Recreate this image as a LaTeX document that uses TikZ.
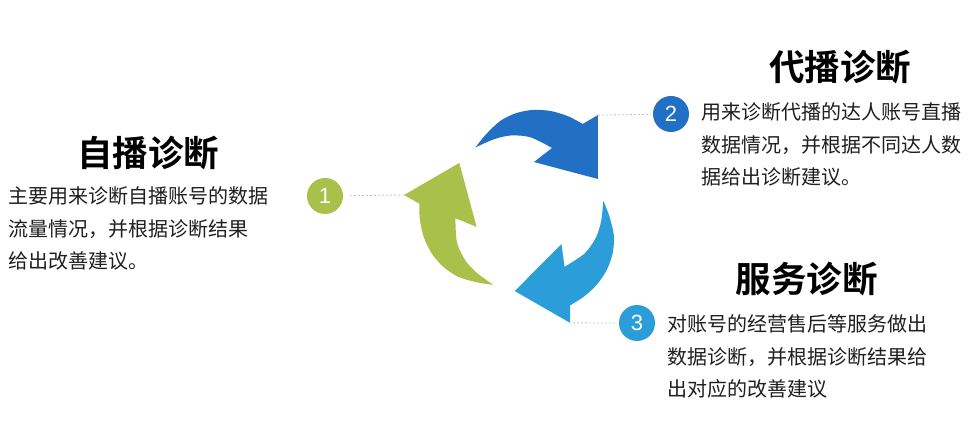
\documentclass[tikz,border=0pt]{standalone}
\usepackage{fontspec}
\newfontfamily\cjk{Noto Sans CJK SC}[BoldFont={Noto Sans CJK SC Bold}]
\newfontfamily\numf{Liberation Sans}
\definecolor{dblue}{HTML}{2270C5}
\definecolor{lgreen}{HTML}{A9C04A}
\definecolor{lblue}{HTML}{2B9DD8}
\definecolor{leadgray}{HTML}{C4C4C4}
\tikzset{
  body/.style={anchor=base west, inner sep=0pt, text=black!88,
    font=\cjk\fontsize{20pt}{32.5pt}\selectfont},
  ttl/.style={anchor=base, inner sep=0pt, text=black,
    font=\cjk\bfseries\fontsize{35.5pt}{40pt}\selectfont},
  num/.style={circle, minimum size=36pt, inner sep=0pt, text=white,
    font=\numf\fontsize{22pt}{24pt}\selectfont},
  lead/.style={draw=leadgray, dash pattern=on 2pt off 2pt, line width=0.8pt},
  cyc/.pic={
    \fill plot[smooth] coordinates {(127.4:80pt) (116.5:85.5pt) (105:93pt) (95:98pt)
        (85:101.5pt) (75:103.5pt) (65:104.5pt) (56:105pt)}
      -- (52.4:121pt) -- (23.4:80.6pt) -- (78.5:50pt) -- (66:69pt)
      -- plot[smooth] coordinates {(66:69pt) (85:74pt) (100:76.7pt) (113:77.8pt) (127.4:80pt)}
      -- cycle;
    \coordinate (-corner) at (52.4:121pt);
  }
}
\begin{document}
\begin{tikzpicture}[x=1pt,y=1pt]
\useasboundingbox[fill=white] (0,0) rectangle (973,-435);

% cycle arrows
\pic[fill=dblue] (da) at (524,-211) {cyc};
\pic[fill=lgreen, rotate=120] (ga) at (524,-211) {cyc};
\pic[fill=lblue, rotate=-120] (la) at (524,-211) {cyc};

% number circles
\node[num, fill=lgreen] (c1) at (325,-196) {1};
\node[num, fill=dblue] (c2) at (671,-114) {2};
\node[num, fill=lblue] (c3) at (637,-323) {3};

% leader lines
\draw[lead, shorten >=6pt] (ga-corner) -- (c1);
\draw[lead, shorten >=2pt] (da-corner) -- (c2);
\draw[lead, shorten <=3pt, shorten >=2pt] (la-corner) -- (c3);

% titles
\node[ttl] (t1) at (148,-166.5) {自播诊断};
\node[ttl] (t2) at (840,-80.5) {代播诊断};
\node[ttl] (t3) at (806.5,-292.5) {服务诊断};

% body texts
\node[body] (b1) at (8,-204) {\vtop{\hbox{主要用来诊断自播账号的数据}\hbox{流量情况，并根据诊断结果}\hbox{给出改善建议。}}};
\node[body] (b2) at (701,-120) {\vtop{\hbox{用来诊断代播的达人账号直播}\hbox{数据情况，并根据不同达人数}\hbox{据给出诊断建议。}}};
\node[body] (b3) at (667,-331.5) {\vtop{\hbox{对账号的经营售后等服务做出}\hbox{数据诊断，并根据诊断结果给}\hbox{出对应的改善建议}}};
\end{tikzpicture}
\end{document}
